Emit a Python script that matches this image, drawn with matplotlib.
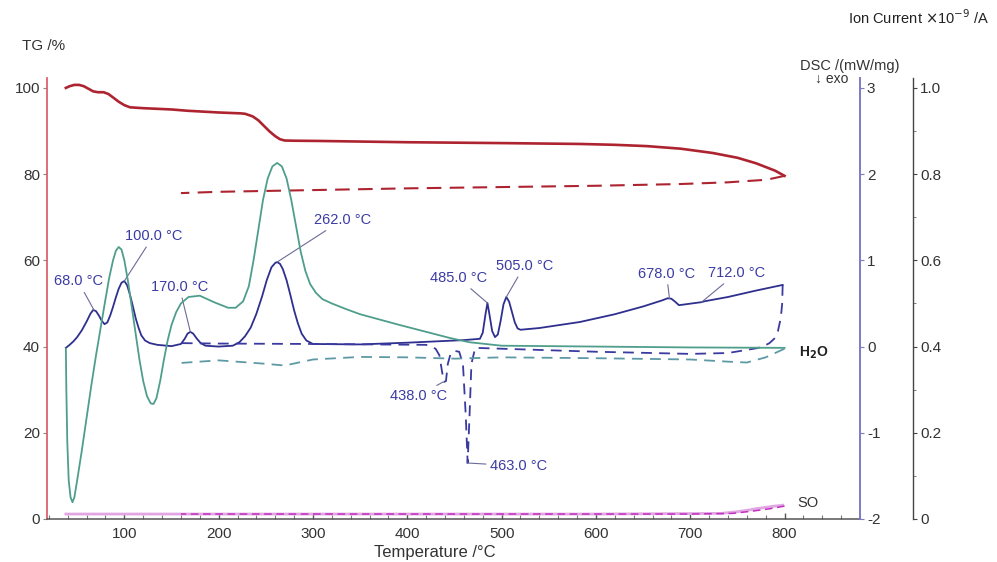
import numpy as np
import matplotlib
matplotlib.use("Agg")
import matplotlib.pyplot as plt
from matplotlib.ticker import MultipleLocator

plt.rcParams['font.family'] = ['Liberation Sans', 'DejaVu Sans']
plt.rcParams['axes.unicode_minus'] = False

# ---------------- data ----------------
# TG heating (solid) and cooling (dashed), %
tg_T = [38, 42, 47, 52, 57, 62, 67, 72, 78, 83, 88, 94, 100, 106, 120, 150, 167, 200,
        223, 228, 236, 242, 248, 254, 260, 265, 270, 280, 305, 400, 500, 583, 620, 654,
        690, 724, 750, 770, 790, 800]
tg_v = [100.0, 100.4, 100.7, 100.7, 100.4, 99.8, 99.2, 99.0, 99.0, 98.6, 97.8, 96.8,
        96.0, 95.5, 95.3, 95.0, 94.7, 94.3, 94.1, 94.0, 93.4, 92.5, 91.2, 89.9, 88.8,
        88.1, 87.8, 87.75, 87.7, 87.4, 87.2, 87.0, 86.8, 86.5, 85.9, 84.9, 83.8, 82.5,
        80.8, 79.6]
tgc_T = [800, 781, 740, 689, 600, 500, 400, 300, 200, 160]
tgc_v = [79.6, 78.7, 78.1, 77.7, 77.3, 77.0, 76.7, 76.3, 75.9, 75.6]

# DSC heating (solid) and cooling (dashed), mW/mg
dsc_T = [38, 42, 46, 50, 55, 60, 64, 67, 70, 73, 76, 79, 82, 85, 88, 91, 94, 97, 100,
         103, 106, 109, 112, 115, 118, 122, 127, 135, 150, 160, 164, 167, 170, 173, 177,
         181, 186, 200, 215, 222, 228, 234, 240, 246, 251, 256, 260, 262, 265, 268, 272,
         276, 280, 284, 288, 293, 300, 350, 400, 460, 477, 480, 483, 485, 487, 490, 493,
         496, 499, 502, 505, 508, 511, 514, 517, 520, 540, 583, 620, 650, 670, 676, 680,
         684, 688, 695, 705, 712, 715, 740, 770, 798]
dsc_v = [-0.015, 0.02, 0.06, 0.11, 0.19, 0.29, 0.38, 0.425, 0.41, 0.36, 0.30, 0.26,
         0.28, 0.36, 0.46, 0.57, 0.67, 0.74, 0.76, 0.71, 0.60, 0.47, 0.33, 0.22, 0.13,
         0.07, 0.04, 0.02, 0.005, 0.03, 0.09, 0.15, 0.17, 0.15, 0.09, 0.04, 0.01, 0.0,
         0.01, 0.05, 0.12, 0.22, 0.38, 0.58, 0.77, 0.92, 0.97, 0.98, 0.96, 0.90, 0.77,
         0.60, 0.42, 0.27, 0.15, 0.07, 0.03, 0.025, 0.045, 0.075, 0.09, 0.16, 0.38,
         0.505, 0.38, 0.18, 0.11, 0.14, 0.30, 0.49, 0.575, 0.52, 0.40, 0.28, 0.21, 0.195,
         0.215, 0.285, 0.375, 0.465, 0.535, 0.56, 0.555, 0.52, 0.48, 0.49, 0.505, 0.515,
         0.525, 0.575, 0.65, 0.715]
dscc_T = [798, 797.5, 796, 793, 789, 784, 777, 770, 740, 700, 600, 500, 472, 468, 466,
          464, 462, 459, 455, 450, 446, 443, 441, 439, 437, 434, 430, 420, 300, 200, 160]
dscc_v = [0.715, 0.5, 0.33, 0.18, 0.09, 0.04, 0.0, -0.02, -0.075, -0.085, -0.06, -0.025,
          -0.015, -0.2, -0.8, -1.35, -0.8, -0.2, -0.06, -0.05, -0.08, -0.2, -0.4, -0.41,
          -0.3, -0.1, -0.025, 0.02, 0.03, 0.035, 0.04]

# Ion current H2O heating (solid) / cooling (dashed), x1e-9 A
h2o_T = [38, 38.5, 39.5, 41, 43, 45, 47, 50, 55, 60, 65, 70, 75, 80, 84, 88, 91, 94, 97,
         100, 104, 108, 112, 116, 120, 124, 128, 131, 134, 138, 142, 146, 150, 155, 160,
         168, 180, 195, 210, 218, 226, 232, 237, 242, 247, 252, 257, 262, 267, 272, 277,
         282, 287, 292, 297, 303, 310, 320, 335, 350, 392, 445, 466, 500, 600, 700, 800]
h2o_v = [0.395, 0.30, 0.18, 0.09, 0.05, 0.039, 0.05, 0.09, 0.16, 0.235, 0.31, 0.38,
         0.445, 0.51, 0.56, 0.60, 0.622, 0.631, 0.625, 0.60, 0.55, 0.49, 0.43, 0.37,
         0.32, 0.285, 0.268, 0.267, 0.28, 0.32, 0.37, 0.415, 0.45, 0.48, 0.50, 0.515,
         0.518, 0.503, 0.49, 0.49, 0.505, 0.54, 0.60, 0.67, 0.74, 0.79, 0.818, 0.826,
         0.818, 0.79, 0.74, 0.68, 0.62, 0.575, 0.545, 0.525, 0.51, 0.50, 0.487, 0.475,
         0.45, 0.42, 0.41, 0.402, 0.40, 0.398, 0.397]
h2oc_T = [800, 780, 760, 740, 700, 600, 500, 450, 400, 350, 300, 270, 250, 200, 160]
h2oc_v = [0.395, 0.375, 0.363, 0.365, 0.37, 0.373, 0.375, 0.372, 0.375, 0.376, 0.37,
          0.356, 0.36, 0.368, 0.362]

# Ion current SO heating (solid) / cooling (dashed)
so_T = [38, 300, 600, 733, 750, 760, 770, 780, 790, 798]
so_v = [0.0115, 0.0115, 0.0115, 0.013, 0.017, 0.020, 0.024, 0.027, 0.030, 0.032]
soc_T = [800, 785, 765, 745, 700, 500, 160]
soc_v = [0.030, 0.024, 0.018, 0.013, 0.0115, 0.0115, 0.0115]

# peak annotations (temperature, which DSC branch)
peak_T = [68.0, 100.0, 170.0, 262.0, 485.0, 505.0, 678.0, 712.0, 438.0, 463.0]
peak_branch = ['h', 'h', 'h', 'h', 'h', 'h', 'h', 'h', 'c', 'c']
label_offsets = [(-16, 29), (29, 45), (-11, 45), (65, 42), (-29, 25), (18, 31),
                 (-3, 25), (35, 29), (-25, -14), (52, -3)]

x_ticks = [100, 200, 300, 400, 500, 600, 700, 800]
tg_ticks = [0, 20, 40, 60, 80, 100]
dsc_ticks = [-2, -1, 0, 1, 2, 3]
ic_ticks = [0, 0.2, 0.4, 0.6, 0.8, 1.0]

# ---------------- figure ----------------
W, H = 997, 562
fig = plt.figure(figsize=(W / 100, H / 100), dpi=100)
L, R, B, T = 47, 860, 519, 78
ax = fig.add_axes([L / W, 1 - B / H, (R - L) / W, (B - T) / H])
ax2 = ax.twinx()
ax3 = ax.twinx()

tg_top = 102.3
ax.set_xlim(18, 880)
ax.set_ylim(0, tg_top)
ax2.set_ylim(-2, -2 + tg_top / 20)
ax3.set_ylim(0, tg_top / 100)

red_line = '#ad2430'
blue_line = '#2f2f8f'
teal = '#4f9e8c'
teal_d = '#5d9aa6'
txt_blue = '#3b3ba5'
lab = '#333333'

ax.plot(tg_T, tg_v, color=red_line, lw=1.9, zorder=5)
ax.plot(tgc_T, tgc_v, color=red_line, lw=1.5, dashes=(7, 4), zorder=5)

ax2.plot(dsc_T, dsc_v, color=blue_line, lw=1.3, zorder=6)
ax2.plot(dscc_T, dscc_v, color='#3a3aa0', lw=1.3, dashes=(6, 4), zorder=6)

ax3.plot(h2o_T, h2o_v, color=teal, lw=1.3, zorder=4)
ax3.plot(h2oc_T, h2oc_v, color=teal_d, lw=1.3, dashes=(6, 4), zorder=4)
ax3.plot(so_T, so_v, color='#e2a6e2', lw=2.0, zorder=3)
ax3.plot(soc_T, soc_v, color='#c030c0', lw=1.1, dashes=(5, 3), zorder=3)

# annotations on DSC
cT = np.array(dscc_T, dtype=float)
cV = np.array(dscc_v, dtype=float)
for t, br, off in zip(peak_T, peak_branch, label_offsets):
    if br == 'h':
        y = np.interp(t, dsc_T, dsc_v)
    else:
        near = np.abs(cT - t) <= 3
        y = cV[near].min()
    ax2.annotate(f"{t:.1f} °C", xy=(t, y), xytext=off, textcoords='offset pixels',
                 ha='center', va='center', fontsize=10.5, color=txt_blue,
                 arrowprops=dict(arrowstyle='-', color='#6b6b99', lw=0.8,
                                 shrinkA=1, shrinkB=0), zorder=7)

ax3.annotate(r"H$_\mathbf{2}$O", xy=(h2o_T[-1], h2o_v[-1]), xytext=(14, -5),
             textcoords='offset pixels', ha='left', va='center', fontsize=10,
             color='#222222', fontweight='bold')
ax3.annotate("SO", xy=(so_T[-1], so_v[-1]), xytext=(15, 2),
             textcoords='offset pixels', ha='left', va='center', fontsize=10.5,
             color='#333333')

# axes styling
for s in ['top', 'right']:
    ax.spines[s].set_visible(False)
ax.spines['left'].set_color('#e0606e')
ax.spines['left'].set_linewidth(1.3)
ax.spines['bottom'].set_color('#555555')
ax.spines['bottom'].set_linewidth(1.1)
ax.set_xticks(x_ticks)
ax.xaxis.set_minor_locator(MultipleLocator(20))
ax.set_yticks(tg_ticks)
ax.tick_params(axis='x', which='major', direction='in', length=4, width=1,
               colors='#555555', labelcolor=lab, labelsize=11, pad=6)
ax.tick_params(axis='x', which='minor', direction='in', length=3, width=0.8,
               colors='#777777')
ax.tick_params(axis='y', direction='out', length=3, width=0.8, colors='#888888',
               labelcolor=lab, labelsize=11, pad=2)

for a in (ax2, ax3):
    for s in ['top', 'left', 'bottom']:
        a.spines[s].set_visible(False)
ax2.spines['right'].set_color('#7c7cc4')
ax2.spines['right'].set_linewidth(1.4)
ax2.set_yticks(dsc_ticks)
ax2.tick_params(axis='y', direction='out', length=3, width=0.8, colors='#7c7cc4',
                labelcolor=lab, labelsize=11, pad=2)

ax3.spines['right'].set_position(('axes', (913 - L) / (R - L)))
ax3.spines['right'].set_color('#444444')
ax3.spines['right'].set_linewidth(1.0)
ax3.set_yticks(ic_ticks)
ax3.set_yticklabels(["0", "0.2", "0.4", "0.6", "0.8", "1.0"])
ax3.yaxis.set_minor_locator(MultipleLocator(0.1))
ax3.tick_params(axis='y', which='major', direction='out', length=3, width=0.8,
                colors='#444444', labelcolor=lab, labelsize=11, pad=2)
ax3.tick_params(axis='y', which='minor', direction='out', length=2, width=0.6,
                colors='#666666')

# axis titles
fig.text(22 / W, 1 - 46 / H, "TG /%", fontsize=11, color=lab, ha='left', va='center')
fig.text(435 / W, 1 - 552 / H, "Temperature /°C", fontsize=12, color=lab,
         ha='center', va='center')
fig.text(800 / W, 1 - 66 / H, "DSC /(mW/mg)", fontsize=10.5, color=lab,
         ha='left', va='center')
fig.text(815 / W, 1 - 79 / H, "↓ exo", fontsize=10, color=lab, ha='left', va='center')
fig.text(848 / W, 1 - 18 / H, r"Ion Current $\times$10$^{-9}$ /A", fontsize=10.5,
         color='#222222', ha='left', va='center')

fig.savefig("out.png", dpi=100)
